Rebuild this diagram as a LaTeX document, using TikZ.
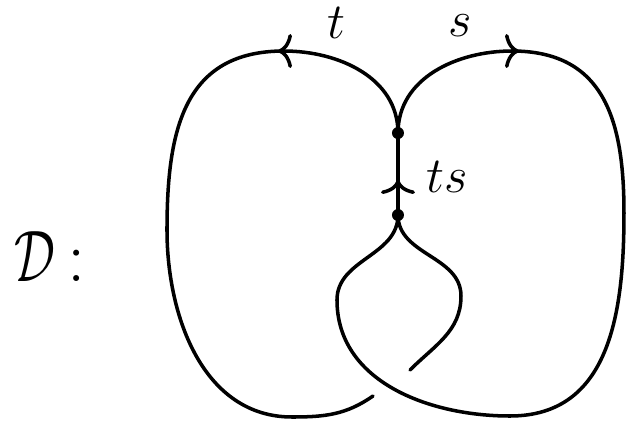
\documentclass[tikz,border=0pt]{standalone}
\usetikzlibrary{arrows.meta}
\begin{document}
\begin{tikzpicture}[x=0.01cm,y=0.01cm,line width=1pt,line cap=round,
  dir/.style={-{To[length=1.4mm,width=3.4mm]}},
  vtx/.style={circle,fill,inner sep=0pt,minimum size=0.12cm},
  lbl/.style={font=\Large,anchor=base,inner sep=0pt}]
  \useasboundingbox (0,0) rectangle (635,426);
  % vertices and turning points
  \coordinate (U) at (398,293);
  \coordinate (L) at (398,211);
  \coordinate (tTop) at (284,375);
  \coordinate (tTip) at (278,375);
  \coordinate (sTop) at (512,375);
  \coordinate (sTip) at (519,375);
  \coordinate (lLeft) at (167,196);
  \coordinate (lBot) at (292,9);
  \coordinate (lEnd) at (373,30);
  \coordinate (rRight) at (624,213);
  \coordinate (rBot) at (510,10);
  \coordinate (bL) at (337,126);
  \coordinate (bR) at (461,130);
  \coordinate (rEnd) at (410,56);
  \coordinate (tsTip) at (398,246);
  % strands
  \draw (U) to[out=90,in=0] (tTop) to[out=180,in=90,looseness=1.2] (lLeft)
    to[out=-90,in=180] (lBot) to[out=0,in=-145] (lEnd);
  \draw (U) to[out=90,in=180] (sTop) to[out=0,in=90,looseness=1.2] (rRight)
    to[out=-90,in=0,looseness=1.1] (rBot) to[out=180,in=-90] (bL)
    to[out=90,in=-90] (L);
  \draw (L) to[out=-90,in=90] (bR) to[out=-90,in=45] (rEnd);
  \draw (L) -- (U);
  % orientations
  \draw[dir] (tTop) -- (tTip);
  \draw[dir] (sTop) -- (sTip);
  \draw[dir] (L) -- (tsTip);
  \node[vtx] (up) at (U) {};
  \node[vtx] (lo) at (L) {};
  % labels
  \node[lbl] (tlab) at (336,388) {$t$};
  \node[lbl] (slab) at (460,390) {$s$};
  \node[lbl] (tslab) at (447,234) {$ts$};
  \node[font=\huge] (dlab) at (50,169) {\scalebox{0.7}[1]{$\mathcal{D}$}\,:};
\end{tikzpicture}
\end{document}
